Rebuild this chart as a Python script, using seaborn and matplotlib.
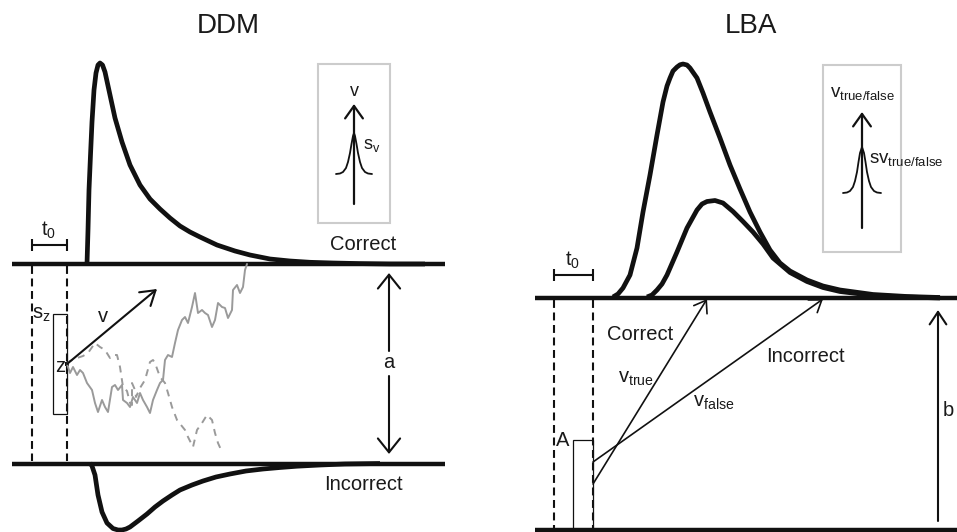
import matplotlib
matplotlib.use("Agg")
import matplotlib.pyplot as plt
import seaborn as sns
import pandas as pd
from matplotlib.patches import Rectangle

# ---------------------------------------------------------------------------
# Shapes, in canvas pixels (x to the right, y downwards)
# ---------------------------------------------------------------------------
panel_titles = ["DDM", "LBA"]

# DDM: first-passage density at the upper (correct) boundary
ddm_correct = [(87, 264), (88, 230), (89, 190), (90.5, 155), (92, 122), (94, 90),
               (96, 73), (98, 65), (100, 63), (102.5, 65), (105, 72), (110, 95),
               (115, 118), (122, 142), (130, 165), (140, 185), (150, 199),
               (160, 209), (170, 218), (180, 226), (190, 232), (200, 237),
               (217, 245), (235, 251), (250, 255), (270, 259), (290, 261),
               (310, 262.3), (333, 263), (360, 263.6), (390, 264), (425, 264)]

# DDM: first-passage density at the lower (incorrect) boundary, drawn downwards
ddm_incorrect = [(90, 463), (92, 466), (95, 475), (98, 495), (102, 512),
                 (107, 523), (113, 528.5), (118, 530), (122, 530), (126, 529),
                 (130, 527), (138, 521), (147, 514), (155, 507), (163, 501),
                 (172, 495), (180, 490), (192, 485), (203, 481), (216, 477),
                 (230, 474), (246, 471), (263, 469), (280, 467.5), (297, 466.2),
                 (320, 465), (345, 464), (380, 463.5)]

# DDM: sample path that reaches the upper boundary
walk_hit = [(67, 364), (70, 373), (73, 367), (77, 375), (80, 370), (83, 373),
            (87, 383), (92, 390), (95, 403), (98, 412), (102, 400), (105, 407),
            (108, 412), (112, 387), (115, 385), (118, 390), (122, 385),
            (123, 400), (127, 403), (130, 407), (133, 397), (137, 403),
            (140, 393), (143, 400), (147, 407), (150, 413), (153, 400),
            (157, 390), (160, 383), (163, 380), (165, 360), (168, 355),
            (172, 357), (175, 343), (178, 330), (182, 320), (185, 317),
            (188, 323), (192, 307), (195, 293), (198, 313), (202, 310),
            (205, 313), (208, 315), (212, 327), (215, 320), (218, 303),
            (222, 307), (225, 308), (228, 318), (232, 310), (233, 290),
            (237, 285), (240, 293), (243, 287), (245, 270), (247, 264)]

# DDM: sample path still drifting (dashed)
walk_open = [(67, 364), (70, 361), (77, 358), (83, 356), (88, 353), (95, 343),
             (100, 347), (105, 350), (110, 358), (113, 355), (117, 355),
             (120, 367), (123, 387), (127, 391), (130, 403), (132, 405),
             (132, 383), (135, 390), (136, 397), (140, 388), (145, 380),
             (150, 362), (153, 360), (155, 363), (160, 377), (165, 383),
             (168, 393), (172, 407), (177, 420), (181, 425), (185, 430),
             (188, 437), (193, 447), (197, 430), (202, 423), (207, 415),
             (212, 420), (215, 433), (218, 443), (222, 452)]

# LBA: finishing-time densities of the two accumulators
lba_true = [(613, 297), (618, 294), (623, 288), (630, 275), (637, 248),
            (643, 212), (650, 175), (657, 135), (663, 102), (667, 86),
            (670, 78), (673, 71), (677, 67), (680, 64.8), (683, 64),
            (687, 65), (690, 68), (697, 78), (703, 93), (710, 112),
            (720, 138), (730, 165), (740, 189), (750, 212), (760, 232),
            (770, 250), (780, 263), (790, 271), (807, 280), (823, 286),
            (840, 290), (873, 294.5), (907, 296.5), (940, 297.5)]
lba_false = [(647, 297), (652, 295), (657, 290), (662, 284), (667, 275),
             (677, 252), (687, 228), (697, 210), (702, 204), (707, 201.5),
             (715, 200.5), (723, 203), (733, 211.5), (743, 221.5), (753, 232),
             (763, 244), (773, 258), (790, 272.5), (807, 281.5), (823, 287.5),
             (840, 291.5), (873, 295.5), (907, 297), (940, 298)]

# Drift-rate variability bells in the two insets
ddm_bell = [(336, 174), (340, 173.5), (343, 172), (346, 168), (348, 162),
            (350, 153), (351.5, 144), (353, 136), (354, 133), (355, 136),
            (356.5, 144), (358, 153), (360, 162), (362, 168), (365, 172),
            (368, 173.5), (372, 174)]
lba_bell = [(843, 193), (847, 192.5), (850, 191), (853, 187), (855, 181),
            (857, 172), (858.5, 162), (860, 153), (862, 147), (864, 153),
            (865.5, 162), (867, 172), (869, 181), (871, 187), (874, 191),
            (877, 192.5), (881, 193)]

# ---------------------------------------------------------------------------
sns.set_theme(style="white")
plt.rcParams["font.family"] = ["Liberation Sans", "DejaVu Sans"]
plt.rcParams["mathtext.fontset"] = "custom"
plt.rcParams["mathtext.rm"] = "Liberation Sans"
plt.rcParams["mathtext.it"] = "Liberation Sans"
plt.rcParams["mathtext.bf"] = "Liberation Sans:bold"

W, H = 957, 532
fig = plt.figure(figsize=(W / 100, H / 100), dpi=100)
ax = fig.add_axes([0, 0, 1, 1])
ax.set_xlim(0, W)
ax.set_ylim(H, 0)
ax.axis("off")

INK = "#111111"
TXT = "#1a1a1a"
GREY = "#9a9a9a"
BOX = "#cccccc"


def curve(points, **kw):
    df = pd.DataFrame(points, columns=["x", "y"])
    sns.lineplot(data=df, x="x", y="y", sort=False, estimator=None, ax=ax,
                 legend=False, **kw)


def arrow(start, tip, lw=1.2, hl=0.45, hw=0.3, scale=20, color=INK):
    ax.annotate("", xy=tip, xytext=start, xycoords="data",
                arrowprops=dict(arrowstyle=f"->,head_length={hl},head_width={hw}",
                                lw=lw, color=color, shrinkA=0, shrinkB=0,
                                mutation_scale=scale))


def label(x, y, s, size=14.5, ha="center", va="center"):
    ax.text(x, y, s, fontsize=size, ha=ha, va=va, color=TXT)


thick = dict(color=INK, lw=3.4, solid_joinstyle="round", solid_capstyle="butt")

# ----------------------------- DDM panel -----------------------------------
label(228, 26, panel_titles[0], size=20)

ax.hlines([264, 463.5], 12, 445, color=INK, lw=3.2, capstyle="butt")
ax.vlines([32, 67], 266, 461, color=INK, lw=1.5, linestyles=(0, (3.8, 2.2)))

curve(walk_open, color=GREY, lw=1.4, dashes=(3.6, 3))
curve(walk_hit, color=GREY, lw=1.4, solid_joinstyle="round")
curve(ddm_correct, **thick)
curve(ddm_incorrect, **thick)

# non-decision time bracket
ax.hlines(245, 32, 67, color=INK, lw=1.5)
ax.vlines([32, 67], 239, 251, color=INK, lw=1.5)
label(49, 230, r"$\mathrm{t}_{0}$")

# starting-point range and drift
ax.add_patch(Rectangle((53, 314), 14, 100, fill=False, ec=INK, lw=0.9))
label(41, 314, r"$\mathrm{s}_{\mathrm{z}}$")
ax.add_patch(Rectangle((65, 362), 4, 4, color=INK, lw=0))
label(60, 366, "z")
arrow((67, 364), (157, 289), lw=1.5, hl=0.5, hw=0.32)
label(103, 316, "v")

# boundary separation
arrow((389, 351), (389, 273), lw=1.5, hl=0.5, hw=0.4)
arrow((389, 376), (389, 454), lw=1.5, hl=0.5, hw=0.4)
label(389, 363, "a")

label(363, 245, "Correct")
label(363, 484, "Incorrect")

# inset: drift-rate variability
ax.add_patch(Rectangle((318, 64), 72, 159, fill=False, ec=BOX, lw=1.5))
arrow((354, 204), (354, 104), lw=1.6, hl=0.45, hw=0.32)
curve(ddm_bell, color=INK, lw=1.3)
label(354, 91, "v", size=13)
label(363, 146, r"$\mathrm{s}_{\mathrm{v}}$", size=13, ha="left")

# ----------------------------- LBA panel -----------------------------------
label(751, 26, panel_titles[1], size=20)

ax.hlines([298, 530], 535, W, color=INK, lw=3.2, capstyle="butt")
ax.vlines([554, 593], 300, 528, color=INK, lw=1.5, linestyles=(0, (3.8, 2.2)))

curve(lba_false, **thick)
curve(lba_true, **thick)

ax.hlines(275, 554, 593, color=INK, lw=1.5)
ax.vlines([554, 593], 269, 281, color=INK, lw=1.5)
label(573, 260, r"$\mathrm{t}_{0}$")

# start-point range
ax.add_patch(Rectangle((573, 439.5), 20, 91, fill=False, ec=INK, lw=0.9))
label(563, 441, "A")

# accumulator trajectories
arrow((593, 484), (707, 299), lw=1.2, hl=0.4, hw=0.28)
arrow((593, 462), (823, 299), lw=1.2, hl=0.4, hw=0.28)
label(640, 334, "Correct")
label(805, 357, "Incorrect")
label(618, 379, r"$\mathrm{v}_{\mathrm{true}}$", ha="left")
label(693, 403, r"$\mathrm{v}_{\mathrm{false}}$", ha="left")

# response threshold
arrow((938, 521), (938, 310), lw=1.5, hl=0.45, hw=0.3)
label(948, 410, "b")

# inset: drift-rate variability
ax.add_patch(Rectangle((823, 65), 78, 187, fill=False, ec=BOX, lw=1.5))
arrow((862, 228), (862, 112), lw=1.6, hl=0.45, hw=0.32)
curve(lba_bell, color=INK, lw=1.3)
label(862, 94, r"$\mathrm{v}_{\mathrm{true/false}}$", size=13.5)
label(869, 159, r"$\mathrm{sv}_{\mathrm{true/false}}$", size=13.5, ha="left")

fig.savefig("out.png", dpi=100, facecolor="white")
